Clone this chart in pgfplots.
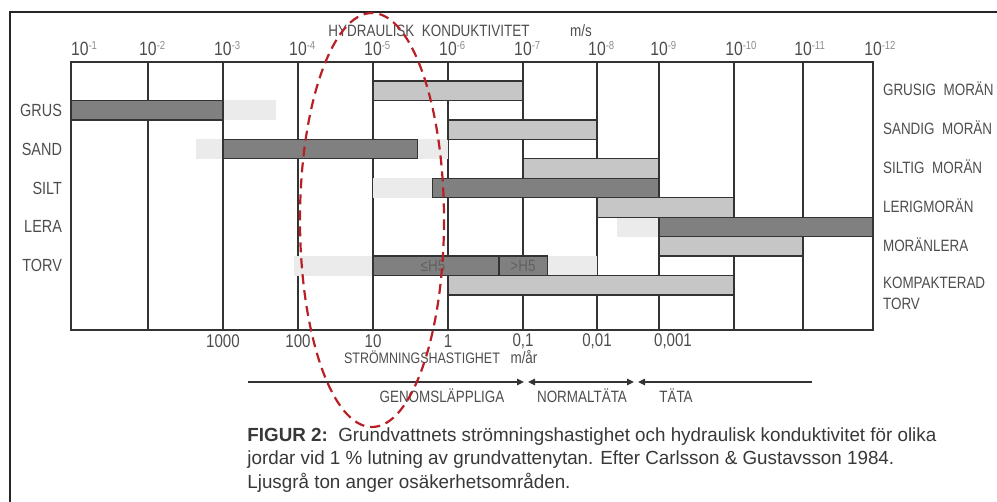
\documentclass[border=0pt]{standalone}
\usepackage{fontspec}
\setmainfont{Liberation Sans}[FakeStretch=0.82]
\newfontfamily\capfont{Liberation Sans}[FakeStretch=0.99]
\usepackage{pgfplots}
\pgfplotsset{compat=1.18}
\usetikzlibrary{arrows.meta}
\definecolor{txt}{HTML}{4D4D4D}
\definecolor{suptxt}{HTML}{8C8C8C}
\definecolor{darkbar}{HTML}{808080}
\definecolor{lightbar}{HTML}{C6C6C6}
\definecolor{unc}{HTML}{EBEBEB}
\definecolor{edge}{HTML}{333333}
\definecolor{ell}{HTML}{B82025}
\newcommand\tl[1]{10\makebox[0pt][l]{\raisebox{3pt}{\fontsize{5.8}{6}\selectfont\color{suptxt}-#1}}}
\begin{document}
\begin{tikzpicture}[font=\fontsize{8.2}{9.6}\selectfont, text=txt]
\path[use as bounding box] (0,0) rectangle (498.5pt,-251pt);
\clip (0,0) rectangle (498.5pt,-251pt);
\begin{axis}[
  at={(35.5pt,-165pt)}, anchor=south west,
  scale only axis, width=401pt, height=134pt,
  x coord trafo/.code={\pgfmathparse{77*(#1-1)-2*max(#1-2,0)-max(#1-7,0)-12*max(#1-8,0)+13*max(#1-9,0)-6*max(#1-10,0)+max(#1-11,0)}},
  xmin=1, xmax=12,
  y dir=reverse, ymin=-0.977, ymax=12.8,
  xtick={1,2,3,4,5,6,7,8,9,10,11,12},
  xticklabels={\hphantom{10}\tl{1},\tl{2},\tl{3},\tl{4},\tl{5},\tl{6},\tl{7},\tl{8},\tl{9},\tl{10},\tl{11},\tl{12}},
  xticklabel pos=upper,
  xticklabel style={text=txt, font=\fontsize{9.6}{10}\selectfont, yshift=-0.5pt},
  major tick length=0pt,
  ytick=\empty,
  xmajorgrids,
  grid style={draw=edge, line width=0.8pt},
  axis line style={draw=edge, line width=0.9pt},
  clip=false,
]
% uncertainty ranges (light grey, no border)
\addplot[fill=unc, draw=none] coordinates {(3,1) (3.70,1) (3.70,2) (3,2)} -- cycle;
\addplot[fill=unc, draw=none] coordinates {(2.64,3) (6,3) (6,4) (2.64,4)} -- cycle;
\addplot[fill=unc, draw=none] coordinates {(5,5) (5.79,5) (5.79,6) (5,6)} -- cycle;
\addplot[fill=unc, draw=none] coordinates {(8.33,7) (9,7) (9,8) (8.33,8)} -- cycle;
\addplot[fill=unc, draw=none] coordinates {(3.95,9) (8,9) (8,10) (3.95,10)} -- cycle;
% moraines / compacted peat (light bars)
\addplot[fill=lightbar, draw=edge, line width=0.6pt] coordinates {(5,0) (7,0) (7,1) (5,1)} -- cycle;
\addplot[fill=lightbar, draw=edge, line width=0.6pt] coordinates {(6,2) (8,2) (8,3) (6,3)} -- cycle;
\addplot[fill=lightbar, draw=edge, line width=0.6pt] coordinates {(7,4) (9,4) (9,5) (7,5)} -- cycle;
\addplot[fill=lightbar, draw=edge, line width=0.6pt] coordinates {(8,6) (10,6) (10,7) (8,7)} -- cycle;
\addplot[fill=lightbar, draw=edge, line width=0.6pt] coordinates {(9,8) (11,8) (11,9) (9,9)} -- cycle;
\addplot[fill=lightbar, draw=edge, line width=0.6pt] coordinates {(6,10) (10,10) (10,11) (6,11)} -- cycle;
% soils (dark bars)
\addplot[fill=darkbar, draw=edge, line width=0.6pt] coordinates {(1,1) (3,1) (3,2) (1,2)} -- cycle;
\addplot[fill=darkbar, draw=edge, line width=0.6pt] coordinates {(3,3) (5.59,3) (5.59,4) (3,4)} -- cycle;
\addplot[fill=darkbar, draw=edge, line width=0.6pt] coordinates {(5.79,5) (9,5) (9,6) (5.79,6)} -- cycle;
\addplot[fill=darkbar, draw=edge, line width=0.6pt] coordinates {(9,7) (12,7) (12,8) (9,8)} -- cycle;
\addplot[fill=darkbar, draw=edge, line width=0.6pt] coordinates {(5,9) (6.68,9) (6.68,10) (5,10)} -- cycle;
\addplot[fill=darkbar, draw=edge, line width=0.6pt] coordinates {(6.68,9) (7.33,9) (7.33,10) (6.68,10)} -- cycle;
\node[text=black!62] at (axis cs:5.8,9.5) {≤H5};
\node[text=black!62] at (axis cs:7.0,9.5) {>H5};
% left labels
\begin{scope}[font=\fontsize{8.8}{10}\selectfont]
\node[anchor=east, xshift=-1pt] at (axis cs:1,1.5) {GRUS};
\node[anchor=east, xshift=-1pt] at (axis cs:1,3.5) {SAND};
\node[anchor=east, xshift=-1pt] at (axis cs:1,5.5) {SILT};
\node[anchor=east, xshift=-1pt] at (axis cs:1,7.5) {LERA};
\node[anchor=east, xshift=-1pt] at (axis cs:1,9.5) {TORV};
\end{scope}
% right labels
\node[anchor=west, xshift=1.5pt] at (axis cs:12,0.4) {GRUSIG\ \ MORÄN};
\node[anchor=west, xshift=1.5pt] at (axis cs:12,2.4) {SANDIG\ \ MORÄN};
\node[anchor=west, xshift=1.5pt] at (axis cs:12,4.4) {SILTIG\ \ MORÄN};
\node[anchor=west, xshift=1.5pt] at (axis cs:12,6.4) {LERIGMORÄN};
\node[anchor=west, xshift=1.5pt] at (axis cs:12,8.4) {MORÄNLERA};
\node[anchor=west, xshift=1.5pt] at (axis cs:12,10.4) {KOMPAKTERAD};
\node[anchor=west, xshift=1.5pt] at (axis cs:12,11.45) {TORV};
% bottom scale: flow velocity m/year
\begin{scope}[font=\fontsize{9.2}{10}\selectfont]
\node[yshift=-5.8pt] at (axis cs:3,12.8) {1000};
\node[yshift=-5.8pt] at (axis cs:4,12.8) {100};
\node[yshift=-5.8pt] at (axis cs:5,12.8) {10};
\node[yshift=-5.8pt] at (axis cs:6,12.8) {1};
\node[yshift=-5.8pt] at (axis cs:7,12.8) {0,1};
\node[yshift=-5.8pt] at (axis cs:8,12.8) {0,01};
\node[yshift=-5.8pt, xshift=7pt] at (axis cs:9,12.8) {0,001};
\end{scope}
\end{axis}
\begin{scope}[x=0.5pt, y=-0.5pt]
\draw[black!85, line width=1pt] (9.5,530) -- (9.5,12) -- (1010,12);
\node at (429,31) {HYDRAULISK\ \ KONDUKTIVITET};
\node at (581,31) {m/s};
\node[font=\fontsize{7.6}{9}\selectfont] at (422,357) {STRÖMNINGSHASTIGHET};
\node at (524,357) {m/år};
\draw[edge, line width=0.8pt, -{Triangle[length=3.5pt,width=3.2pt]}] (248,382) -- (524,382);
\draw[edge, line width=0.8pt, {Triangle[length=3.5pt,width=3.2pt]}-{Triangle[length=3.5pt,width=3.2pt]}] (528,382) -- (634,382);
\draw[edge, line width=0.8pt, {Triangle[length=3.5pt,width=3.2pt]}-] (638,382) -- (812,382);
\node at (442,396) {GENOMSLÄPPLIGA};
\node at (582,396) {NORMALTÄTA};
\node at (676,396) {TÄTA};
\begin{scope}[font=\capfont\fontsize{9.5}{11.5}\selectfont, text=black!78]
\node[anchor=base west, inner sep=0pt] at (247,442) {\textbf{FIGUR 2:}\ \ Grundvattnets strömningshastighet och hydraulisk konduktivitet för olika};
\node[anchor=base west, inner sep=0pt] at (247,465) {jordar vid 1 \% lutning av grundvattenytan. Efter Carlsson \& Gustavsson 1984.};
\node[anchor=base west, inner sep=0pt] at (247,488) {Ljusgrå ton anger osäkerhetsområden.};
\end{scope}
\draw[ell, line width=1.1pt, dash pattern=on 5pt off 3pt] (372,220) ellipse [x radius=72, y radius=207];
\end{scope}
\end{tikzpicture}
\end{document}
